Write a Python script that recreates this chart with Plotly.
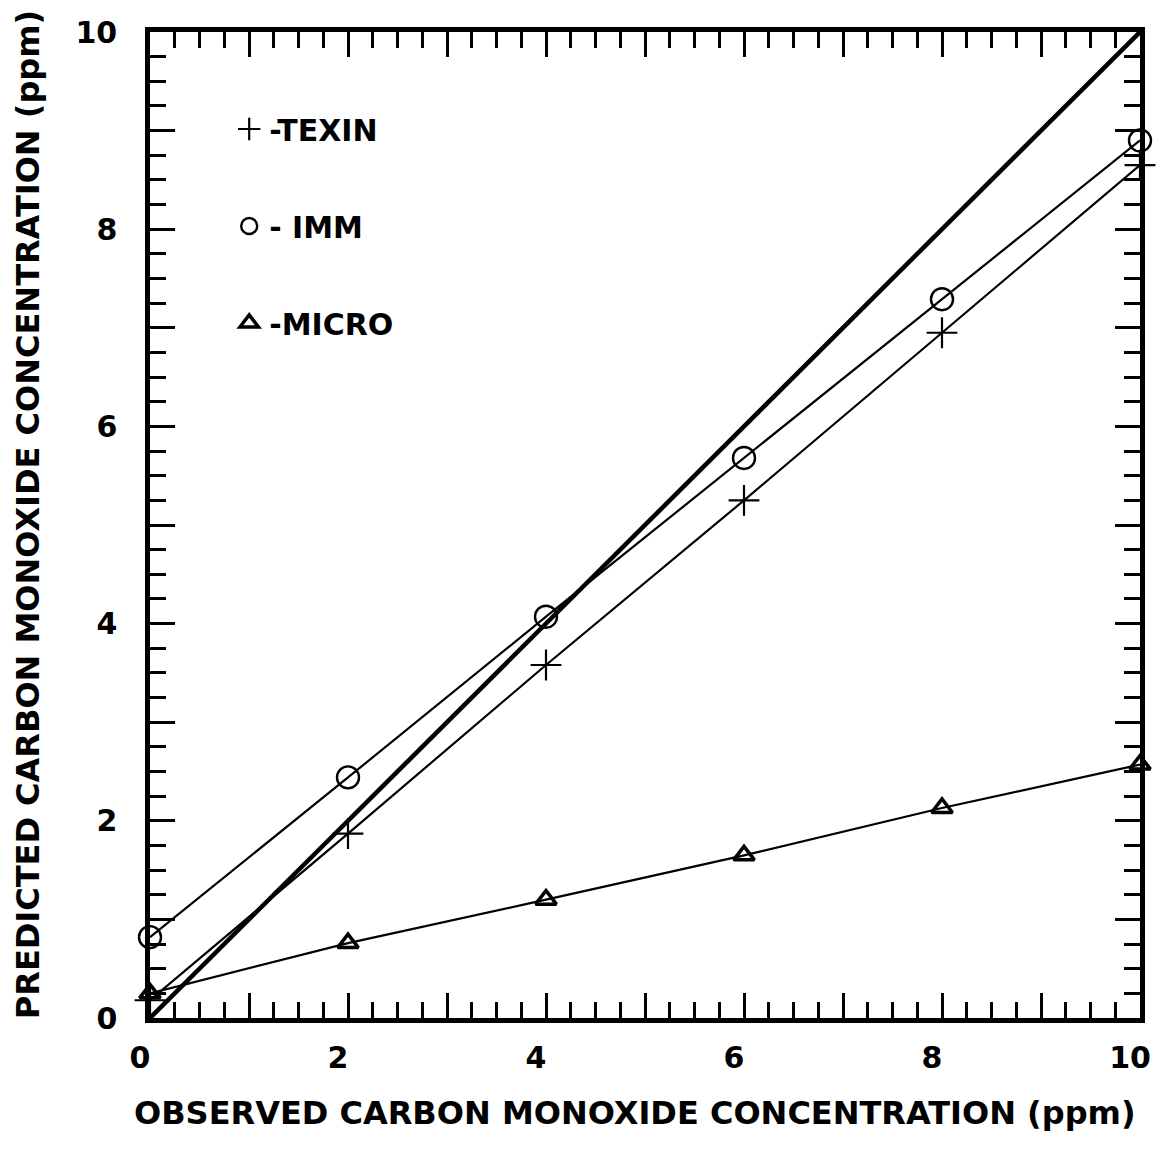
import plotly.graph_objects as go

# Observed CO concentration (ppm) at which each model was evaluated
observed = [0, 2, 4, 6, 8, 10]

# Predicted CO concentration (ppm) by model
texin = [0.18, 1.87, 3.58, 5.25, 6.95, 8.65]
imm = [0.82, 2.44, 4.07, 5.68, 7.29, 8.90]
micro = [0.25, 0.76, 1.20, 1.65, 2.13, 2.57]

# Line of perfect agreement
ideal_x = [0, 10]
ideal_y = [0, 10]

tick_vals = list(range(0, 11))
tick_text = [str(v) if v % 2 == 0 else "" for v in tick_vals]

X_TITLE = "OBSERVED CARBON MONOXIDE CONCENTRATION (ppm)"
Y_TITLE = "PREDICTED CARBON MONOXIDE CONCENTRATION (ppm)"

FONT = "DejaVu Sans"
INK = "black"

fig = go.Figure()

fig.add_trace(go.Scatter(
    x=ideal_x, y=ideal_y, mode="lines",
    line=dict(color=INK, width=4.5), showlegend=False, cliponaxis=False,
))

series = [
    ("-TEXIN", texin, dict(symbol="cross-thin-open", size=22, line=dict(color=INK, width=2.2))),
    ("- IMM", imm, dict(symbol="circle-open", size=22, line=dict(color=INK, width=2.4))),
    ("-MICRO", micro, dict(symbol="triangle-up-open", size=18, line=dict(color=INK, width=3.5))),
]

for i, (name, ys, marker) in enumerate(series):
    fig.add_trace(go.Scatter(
        x=observed, y=ys, mode="lines+markers",
        line=dict(color=INK, width=2.2),
        marker=dict(color=INK, **marker),
        showlegend=False, cliponaxis=False,
    ))
    # marker-only entry for the key
    fig.add_trace(go.Scatter(
        x=[None], y=[None], mode="markers", name=name,
        marker=dict(color=INK, **marker),
        legendgroup=f"g{i}", showlegend=True,
    ))

axis_common = dict(
    range=[0, 10], automargin=False,
    showgrid=False, zeroline=False,
    showline=True, linecolor=INK, linewidth=4.5, mirror="ticks",
    ticks="inside", ticklen=25, tickwidth=3, tickcolor=INK,
    tickmode="array", tickvals=tick_vals, ticktext=tick_text,
    minor=dict(ticks="inside", ticklen=16, tickwidth=3, tickcolor=INK, dtick=0.25, showgrid=False),
    tickfont=dict(family=FONT, size=30, color=INK, weight="bold"),
)

fig.update_xaxes(**axis_common, ticklabelstandoff=9, ticklabelshift=-10)
fig.update_yaxes(**axis_common, ticklabelstandoff=22)

# axis titles
fig.add_annotation(
    text=X_TITLE, xref="paper", yref="paper", x=0.49, y=-0.0963,
    xanchor="center", yanchor="middle", showarrow=False,
    font=dict(family=FONT, size=32, color=INK, weight="bold"),
)
fig.add_annotation(
    text=Y_TITLE, xref="paper", yref="paper", x=-0.1232, y=0.51,
    xanchor="center", yanchor="middle", showarrow=False, textangle=-90,
    font=dict(family=FONT, size=32, color=INK, weight="bold"),
)

fig.update_layout(
    width=1170, height=1159,
    margin=dict(l=150, r=30, t=32, b=141),
    paper_bgcolor="white", plot_bgcolor="white",
    legend=dict(
        x=0.08, y=0.928, xanchor="left", yanchor="top",
        bgcolor="rgba(0,0,0,0)",
        font=dict(family=FONT, size=30, color=INK, weight="bold"),
        tracegroupgap=55, itemsizing="trace", itemwidth=30,
    ),
)

fig.write_html("out.html")
